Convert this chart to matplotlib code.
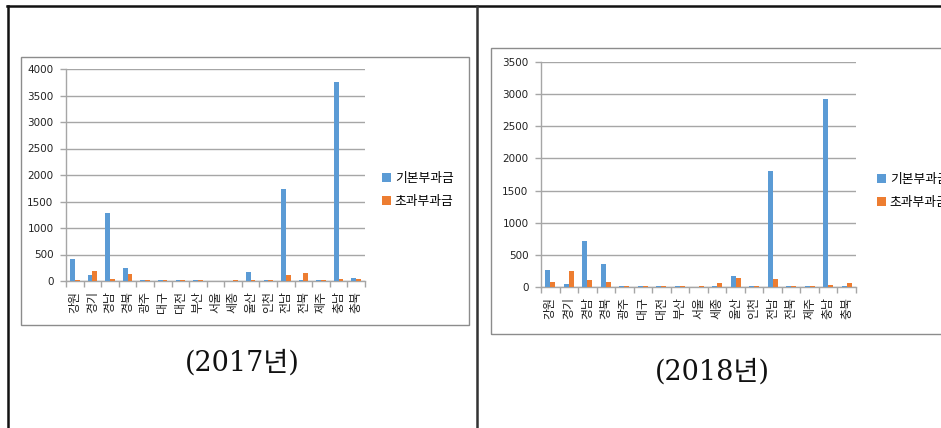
import matplotlib
matplotlib.use("Agg")
import matplotlib.pyplot as plt
from matplotlib.patches import Rectangle
from matplotlib.lines import Line2D
import numpy as np

plt.rcParams['font.family'] = ['DejaVu Sans', 'Noto Sans CJK KR']

regions = ['강원', '경기', '경남', '경북', '광주', '대구', '대전', '부산', '서울',
           '세종', '울산', '인천', '전남', '전북', '제주', '충남', '충북']
series_names = ['기본부과금', '초과부과금']

basic_2017 = [420, 105, 1290, 250, 15, 15, 15, 15, 0, 0, 176, 15, 1738, 15, 15, 3747, 57]
excess_2017 = [20, 195, 38, 126, 15, 15, 15, 15, 0, 15, 15, 15, 113, 145, 15, 38, 38]

basic_2018 = [270, 47, 716, 358, 15, 15, 15, 15, 0, 15, 176, 15, 1810, 15, 15, 2924, 15]
excess_2018 = [78, 249, 109, 78, 15, 15, 15, 15, 15, 62, 145, 15, 124, 15, 15, 31, 67]

years = ['(2017년)', '(2018년)']
ymax = [4000, 3500]

BLUE = '#5B9BD5'
ORANGE = '#ED7D31'
GRID = '#A6A6A6'
FRAME = '#8C8C8C'

W, H = 941, 428
fig = plt.figure(figsize=(W / 100, H / 100), dpi=100)


def fx(x):
    return x / W


def fy(y):
    return 1 - y / H


def px_axes(left, top, right, bottom):
    return fig.add_axes([fx(left), fy(bottom), (right - left) / W, (bottom - top) / H])


# table borders
fig.add_artist(Line2D([fx(7), fx(941)], [fy(6), fy(6)], color='#111111', lw=1.8))
fig.add_artist(Line2D([fx(8), fx(8)], [fy(6), fy(428)], color='#111111', lw=1.8))
fig.add_artist(Line2D([fx(477), fx(477)], [fy(6), fy(428)], color='#333333', lw=1.8))

panels = [
    dict(frame=(21, 57, 469, 325), plot=(66, 69, 365, 281), legend=(382, 190),
         title=(242, 363), data=(basic_2017, excess_2017)),
    dict(frame=(491, 48, 960, 334), plot=(541, 62, 856, 287), legend=(877, 191),
         title=(712, 372), data=(basic_2018, excess_2018)),
]

x = np.arange(len(regions))
bw = 0.27

for i, p in enumerate(panels):
    l, t, r, b = p['frame']
    fig.add_artist(Rectangle((fx(l), fy(b)), (r - l) / W, (b - t) / H,
                             transform=fig.transFigure, fill=False,
                             edgecolor=FRAME, lw=1.0))
    ax = px_axes(*p['plot'])
    basic, excess = p['data']
    h1 = ax.bar(x - bw / 2, basic, bw, color=BLUE, zorder=3, label=series_names[0])
    h2 = ax.bar(x + bw / 2, excess, bw, color=ORANGE, zorder=3, label=series_names[1])

    ax.set_xlim(-0.5, len(regions) - 0.5)
    ax.set_ylim(0, ymax[i])
    ax.set_yticks(np.arange(0, ymax[i] + 1, 500))
    ax.yaxis.grid(True, color=GRID, lw=1.0, zorder=0)
    ax.set_axisbelow(True)
    for s in ['top', 'right']:
        ax.spines[s].set_visible(False)
    for s in ['left', 'bottom']:
        ax.spines[s].set_color(GRID)
        ax.spines[s].set_linewidth(1.0)
    ax.tick_params(axis='y', length=4, width=1, color=GRID, pad=5,
                   labelsize=7.5, labelcolor='#222222')

    ax.set_xticks(x)
    ax.set_xticklabels(regions, rotation=90, fontsize=8.6, color='#222222',
                       family=['Noto Sans CJK KR', 'DejaVu Sans'])
    ax.tick_params(axis='x', which='major', length=0, pad=7)
    ax.set_xticks(np.arange(-0.5, len(regions), 1.0), minor=True)
    ax.tick_params(axis='x', which='minor', length=4, width=1, color=GRID)

    lx, ly = p['legend']
    ax.legend(handles=[h1, h2], loc='center left',
              bbox_to_anchor=(fx(lx), fy(ly)), bbox_transform=fig.transFigure,
              frameon=False, handlelength=0.7, handleheight=0.7,
              handletextpad=0.3, labelspacing=0.75, borderpad=0, borderaxespad=0,
              prop={'family': ['Noto Sans CJK KR', 'DejaVu Sans'], 'size': 9.2})

    tx, ty = p['title']
    fig.text(fx(tx), fy(ty), years[i], ha='center', va='center', fontsize=19.5,
             color='#111111', family=['DejaVu Serif', 'Noto Sans CJK KR'])

fig.savefig('out.png', dpi=100)
